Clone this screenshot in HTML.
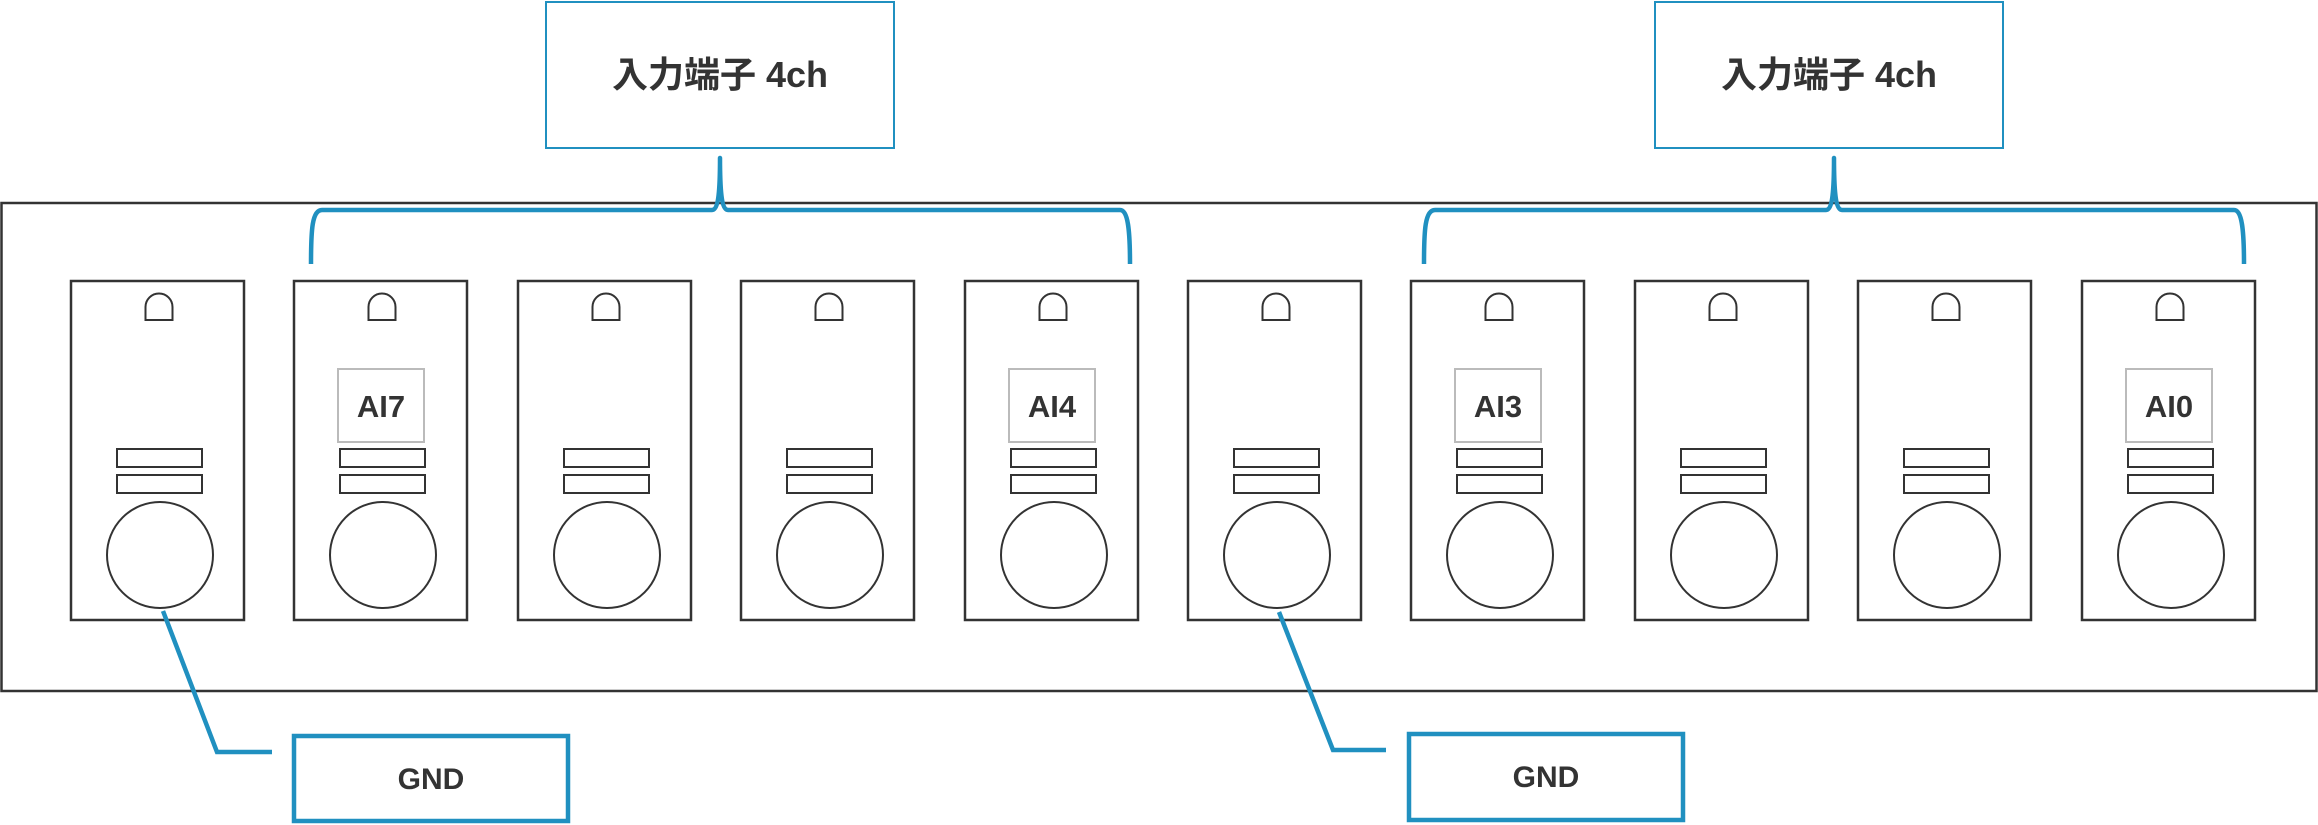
<!DOCTYPE html>
<html><head><meta charset="utf-8"><style>
html,body{margin:0;padding:0;background:#fff;}
svg{display:block;}
text{font-family:"Liberation Sans","Noto Sans CJK JP",sans-serif;font-weight:bold;fill:#333;}
</style></head><body>
<svg width="2318" height="825" viewBox="0 0 2318 825" xmlns="http://www.w3.org/2000/svg" xmlns:xlink="http://www.w3.org/1999/xlink">
<defs>
<g id="card" fill="none" stroke="#333">
<rect x="0" y="281" width="173" height="339" stroke-width="2.5"/>
<path d="M74.5 320 L74.5 307 A13.5 13.5 0 0 1 101.5 307 L101.5 320 Z" stroke-width="2"/>
<rect x="46" y="449" width="85" height="18" stroke-width="2"/>
<rect x="46" y="475" width="85" height="18" stroke-width="2"/>
<circle cx="89" cy="555" r="53" stroke-width="2"/>
</g>
<rect id="lbl" x="44" y="369" width="86" height="73" fill="none" stroke="#bbb" stroke-width="2"/>
</defs>
<!-- outer -->
<rect x="1.5" y="203" width="2315" height="488" fill="none" stroke="#333" stroke-width="2.5"/>
<!-- top labels -->
<rect x="546" y="2" width="348" height="146" fill="#fff" stroke="#2090c0" stroke-width="2"/>
<text x="720" y="87" font-size="36" text-anchor="middle">入力端子 4ch</text>
<rect x="1655" y="2" width="348" height="146" fill="#fff" stroke="#2090c0" stroke-width="2"/>
<text x="1829" y="87" font-size="36" text-anchor="middle">入力端子 4ch</text>
<!-- braces -->
<g fill="none" stroke="#2090c0" stroke-width="4.5" stroke-linejoin="round">
<path d="M311 264 C311 230 312 210 322 210 L712 210 C717 210 720 200 720 158 C720 200 723 210 728 210 L1120 210 C1128 210 1130 230 1130 264"/>
<path d="M1424 264 C1424 230 1425 210 1435 210 L1826 210 C1831 210 1834 200 1834 158 C1834 200 1837 210 1842 210 L2234 210 C2242 210 2244 230 2244 264"/>
</g>
<!-- cards -->
<use href="#card" xlink:href="#card" x="71"/>
<use href="#card" xlink:href="#card" x="294"/>
<use href="#card" xlink:href="#card" x="518"/>
<use href="#card" xlink:href="#card" x="741"/>
<use href="#card" xlink:href="#card" x="965"/>
<use href="#card" xlink:href="#card" x="1188"/>
<use href="#card" xlink:href="#card" x="1411"/>
<use href="#card" xlink:href="#card" x="1635"/>
<use href="#card" xlink:href="#card" x="1858"/>
<use href="#card" xlink:href="#card" x="2082"/>
<use href="#lbl" xlink:href="#lbl" x="294"/>
<use href="#lbl" xlink:href="#lbl" x="965"/>
<use href="#lbl" xlink:href="#lbl" x="1411"/>
<use href="#lbl" xlink:href="#lbl" x="2082"/>
<text x="381" y="417" font-size="31" text-anchor="middle">AI7</text>
<text x="1052" y="417" font-size="31" text-anchor="middle">AI4</text>
<text x="1498" y="417" font-size="31" text-anchor="middle">AI3</text>
<text x="2169" y="417" font-size="31" text-anchor="middle">AI0</text>
<!-- GND -->
<g fill="none" stroke="#2090c0">
<polyline points="163,611 217,752 272,752" stroke-width="4.5"/>
<polyline points="1279,612 1333,750 1386,750" stroke-width="4.5"/>
<rect x="294" y="736" width="274" height="85" stroke-width="4.5"/>
<rect x="1409" y="734" width="274" height="86" stroke-width="4.5"/>
</g>
<text x="431" y="789" font-size="30" text-anchor="middle">GND</text>
<text x="1546" y="787" font-size="30" text-anchor="middle">GND</text>
</svg>
</body></html>
